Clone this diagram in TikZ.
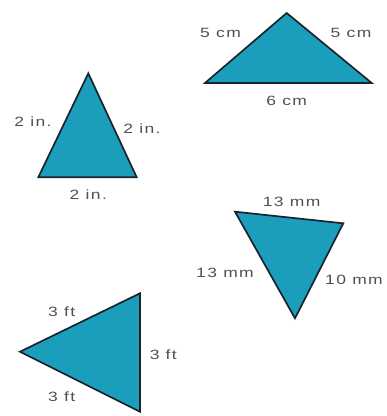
\documentclass[tikz,border=0pt]{standalone}
\usepackage{fontspec}
\setmainfont{Liberation Sans}
\newfontfamily\lblfont[LetterSpace=8]{Liberation Sans}
\usepackage{graphicx}
\definecolor{tealfill}{RGB}{26,158,188}
\definecolor{edgecol}{RGB}{25,35,45}
\definecolor{txtcol}{RGB}{80,80,80}
\begin{document}
\begin{tikzpicture}[x=1bp,y=-1bp,
  tri/.style={fill=tealfill,draw=edgecol,line width=1.7bp,line join=miter},
  lbl/.style={text=txtcol,inner sep=0pt,font=\lblfont\fontsize{13.5}{15}\selectfont}]
\useasboundingbox (0,0) rectangle (387,416);
\newcommand{\wl}[1]{\scalebox{1.3}[1]{#1}}
% cm triangle
\coordinate (a1) at (286.7,13);
\coordinate (a2) at (205,83);
\coordinate (a3) at (371.7,83);
\draw[tri] (a1) -- (a2) -- (a3) -- cycle;
\node[lbl] (la1) at (220.5,33) {\wl{5 cm}};
\node[lbl] (la2) at (351,33) {\wl{5 cm}};
\node[lbl] (la3) at (286.7,101) {\wl{6 cm}};
% in triangle
\coordinate (b1) at (88.3,73.3);
\coordinate (b2) at (38.3,177.3);
\coordinate (b3) at (136.7,177.3);
\draw[tri] (b1) -- (b2) -- (b3) -- cycle;
\node[lbl] (lb1) at (33,122) {\wl{2 in.}};
\node[lbl] (lb2) at (142,128.5) {\wl{2 in.}};
\node[lbl] (lb3) at (88.3,195) {\wl{2 in.}};
% mm triangle
\coordinate (c1) at (235,211.7);
\coordinate (c2) at (343.3,223.3);
\coordinate (c3) at (295,318.3);
\draw[tri] (c1) -- (c2) -- (c3) -- cycle;
\node[lbl] (lc1) at (291.7,201.5) {\wl{13 mm}};
\node[lbl] (lc2) at (225,273.3) {\wl{13 mm}};
\node[lbl] (lc3) at (354,280) {\wl{10 mm}};
% ft triangle
\coordinate (d1) at (140,293.3);
\coordinate (d2) at (20,351.7);
\coordinate (d3) at (140,411.7);
\draw[tri] (d1) -- (d2) -- (d3) -- cycle;
\node[lbl] (ld1) at (61.7,311.7) {\wl{3 ft}};
\node[lbl] (ld2) at (163.3,355) {\wl{3 ft}};
\node[lbl] (ld3) at (61.7,397) {\wl{3 ft}};
\end{tikzpicture}
\end{document}
